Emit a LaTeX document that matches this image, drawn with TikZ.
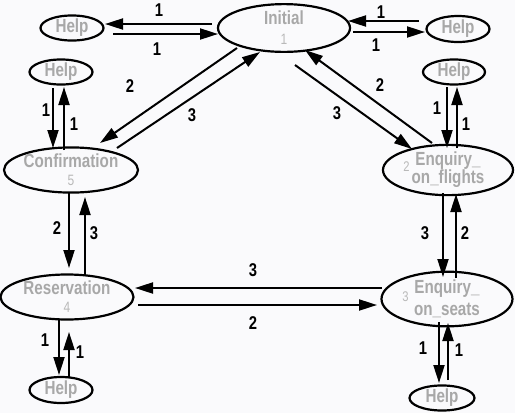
\documentclass[tikz,border=0pt]{standalone}
\usepackage{fontspec}
\setmainfont{Liberation Sans}[FakeStretch=0.8]
\usetikzlibrary{arrows.meta,shapes.geometric,calc}
\definecolor{bgc}{RGB}{250,250,252}
\definecolor{txtg}{RGB}{168,168,168}
\definecolor{numg}{RGB}{185,185,185}
\newcommand{\nfont}{\fontsize{19}{18}\selectfont\bfseries}
\newcommand{\numfont}{\fontsize{15}{15}\selectfont\mdseries\color{numg}}
\newcommand{\sidefont}{\fontsize{14}{14}\selectfont\mdseries\color{numg}}
\tikzset{
  st/.style={ellipse, draw=black, line width=2.2pt, fill=bgc, inner sep=0pt,
    text=txtg, font=\nfont, align=center},
  hp/.style={st, minimum width=63pt, minimum height=25pt},
  arr/.style={line width=2pt, -{Triangle[length=18pt,width=11pt]}},
  lab/.style={font=\fontsize{18.5}{18}\selectfont\bfseries, text=black, inner sep=0pt}
}
\begin{document}
\begin{tikzpicture}[x=1pt,y=-1pt]
\fill[bgc] (0,0) rectangle (515,413);
\useasboundingbox (0,0) rectangle (515,413);

% nodes
\node[st, minimum width=132pt, minimum height=47pt] (ini) at (284,28) {Initial\\[2pt]{\numfont 1}};
\node[hp] (hTL) at (72,28) {Help};
\node[hp, minimum height=26pt] (hTR) at (458,29) {Help};
\node[hp] (hL) at (61,72) {Help};
\node[hp, minimum width=62pt] (hR) at (454,72) {Help};
\node[st, minimum width=134pt, minimum height=45pt] (conf) at (71,170) {Confirmation\\[0pt]{\numfont 5}};
\node[st, minimum width=130pt, minimum height=44pt] (enqf) at (448,170)
  {\makebox[0pt][r]{\raisebox{-6pt}{\sidefont 2}\hspace{6pt}}Enquiry\_\\[-3pt]on\_flights};
\node[st, minimum width=133pt, minimum height=45pt] (res) at (67,297) {Reservation\\[0pt]{\numfont 4}};
\node[st, minimum width=131pt, minimum height=42pt] (enqs) at (447,299)
  {\makebox[0pt][r]{\raisebox{-8pt}{\sidefont 3}\hspace{6pt}}Enquiry\_\\[1pt]on\_seats};
\node[hp, minimum height=26pt] (hBL) at (61,390) {Help};
\node[hp, minimum width=65pt] (hBR) at (442,398) {Help};

% top-left help
\draw[arr] ($(ini)+(-72,-4)$) -- ($(hTL)+(33,-4)$);
\draw[arr] ($(hTL)+(41,6)$) -- ($(ini)+(-66,6)$);
\node[lab] (l1) at (159,10) {1};
\node[lab] (l2) at (157,49) {1};
% top-right help
\draw[arr] ($(hTR)+(-39,-8)$) -- ($(ini)+(64,-7)$);
\draw[arr] ($(ini)+(69,4)$) -- ($(hTR)+(-33,3)$);
\node[lab] (l3) at (381,12) {1};
\node[lab] (l4) at (376,45) {1};
% left help
\draw[arr] ($(hL)+(-8,16)$) -- ($(conf)+(-18,-22)$);
\draw[arr] ($(conf)+(-7,-20)$) -- ($(hL)+(3,15)$);
\node[lab] (l5) at (46,110) {1};
\node[lab] (l6) at (74,124) {1};
% diagonals left
\draw[arr] ($(ini)+(-47,20)$) -- ($(conf)+(29,-27)$);
\draw[arr] ($(conf)+(46,-22)$) -- ($(ini)+(-24,24)$);
\node[lab] (l7) at (130,86) {2};
\node[lab] (l8) at (192,115) {3};
% diagonals right
\draw[arr] ($(ini)+(11,37)$) -- ($(enqf)+(-36,-21)$);
\draw[arr] ($(enqf)+(-16,-27)$) -- ($(ini)+(21,22)$);
\node[lab] (l9) at (337,113) {3};
\node[lab] (l10) at (380,85) {2};
% right help
\draw[arr] ($(hR)+(-7,15)$) -- ($(enqf)+(-1,-22)$);
\draw[arr] ($(enqf)+(9,-22)$) -- ($(hR)+(3,15)$);
\node[lab] (l11) at (437,108) {1};
\node[lab] (l12) at (466,124) {1};
% conf - res
\draw[arr] ($(conf)+(-2,23)$) -- ($(res)+(2,-29)$);
\draw[arr] ($(res)+(18,-22)$) -- ($(conf)+(14,27)$);
\node[lab] (l13) at (57,228) {2};
\node[lab] (l14) at (94,233) {3};
% enqf - enqs
\draw[arr] ($(enqf)+(-5,23)$) -- ($(enqs)+(-4,-22)$);
\draw[arr] ($(enqs)+(9,-21)$) -- ($(enqf)+(8,24)$);
\node[lab] (l15) at (425,233) {3};
\node[lab] (l16) at (465,233) {2};
% enqs - res
\draw[arr] ($(enqs)+(-65,-11)$) -- ($(res)+(68,-9)$);
\draw[arr] ($(res)+(71,8)$) -- ($(enqs)+(-70,6)$);
\node[lab] (l17) at (253,270) {3};
\node[lab] (l18) at (253,323) {2};
% res - help bottom
\draw[arr] ($(res)+(-8,22)$) -- ($(hBL)+(-2,-15)$);
\draw[arr] ($(hBL)+(8,-13)$) -- ($(res)+(2,35)$);
\node[lab] (l19) at (45,340) {1};
\node[lab] (l20) at (80,352) {1};
% enqs - help bottom
\draw[arr] ($(enqs)+(-8,23)$) -- ($(hBR)+(-3,-15)$);
\draw[arr] ($(hBR)+(6,-18)$) -- ($(enqs)+(1,24)$);
\node[lab] (l21) at (423,348) {1};
\node[lab] (l22) at (459,350) {1};
\end{tikzpicture}
\end{document}
